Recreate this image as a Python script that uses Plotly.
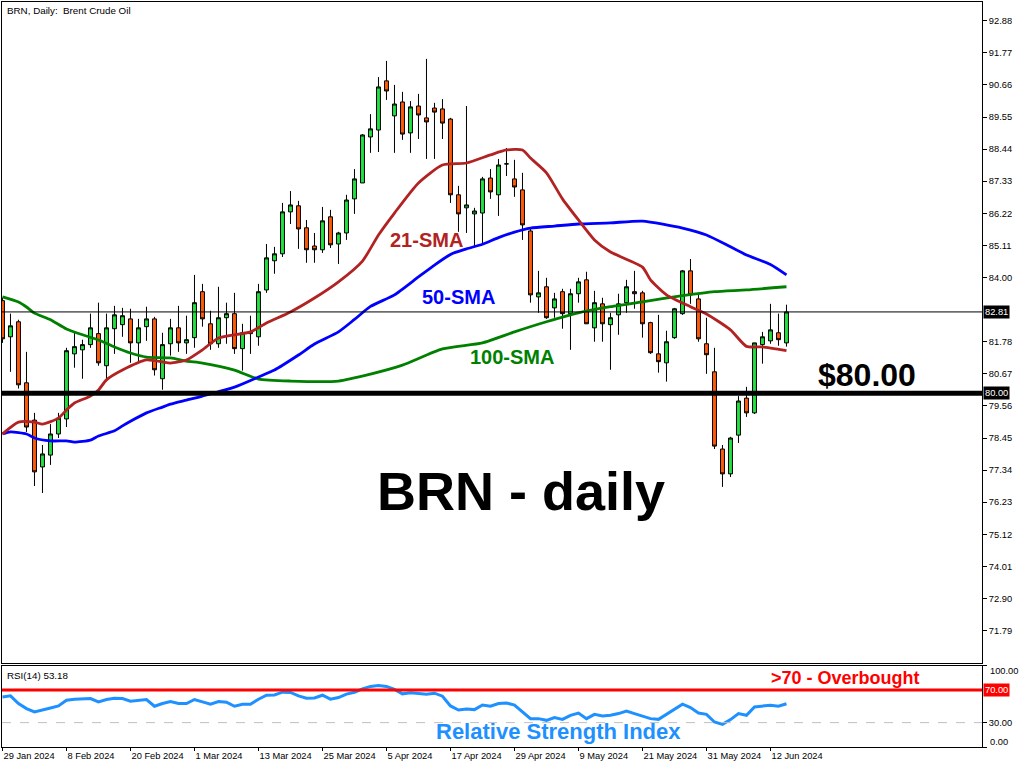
import pandas as pd
import plotly.graph_objects as go

# ---------------- data ----------------
dates = [d.strftime("%Y-%m-%d") for d in pd.bdate_range("2024-01-29", "2024-06-14")
         if d.strftime("%Y-%m-%d") != "2024-03-29"]

open_ = [83.20, 81.95, 82.47, 80.36, 79.07, 77.45, 77.86, 78.59, 79.11, 81.36,
         81.50, 81.68, 82.06, 80.95, 82.23, 82.37, 82.57, 81.74, 82.30, 82.57,
         80.50, 81.71, 82.26, 81.74, 81.92, 83.51, 82.40, 81.71, 82.61, 82.75,
         81.54, 82.06, 81.95, 83.57, 84.58, 84.82, 86.27, 86.48, 85.72, 85.09,
         84.96, 86.10, 85.16, 85.54, 86.72, 87.27, 88.86, 89.10, 90.80, 89.59,
         90.07, 89.00, 89.93, 89.52, 89.86, 89.83, 89.48, 86.86, 86.41, 86.20,
         86.23, 87.44, 86.86, 87.93, 87.41, 87.03, 85.61, 83.33, 83.68, 82.95,
         83.51, 82.75, 83.44, 83.92, 82.26, 83.09, 82.37, 82.71, 83.13, 83.51,
         83.47, 82.44, 81.36, 81.05, 81.92, 82.75, 84.23, 83.26, 81.71, 80.74,
         78.07, 77.21, 78.55, 79.83, 79.32, 81.68, 81.81, 82.09, 81.74]
high = [83.30, 82.75, 82.54, 81.43, 79.32, 78.21, 78.93, 79.32, 81.57, 82.09,
        81.85, 82.75, 83.13, 82.75, 83.02, 82.95, 82.92, 82.57, 82.99, 82.64,
        82.09, 82.57, 83.02, 82.68, 84.09, 83.78, 82.85, 83.68, 83.13, 83.47,
        82.40, 82.68, 83.78, 85.16, 85.06, 86.58, 86.99, 86.65, 85.99, 85.54,
        86.44, 86.34, 85.58, 86.86, 87.75, 88.96, 89.65, 90.93, 91.49, 90.66,
        90.42, 90.10, 90.35, 91.56, 90.04, 90.17, 89.52, 87.17, 89.93, 86.41,
        87.48, 87.75, 88.10, 88.48, 88.07, 87.62, 85.68, 84.23, 83.99, 83.47,
        83.61, 83.61, 83.99, 84.20, 83.54, 83.30, 82.78, 83.44, 83.92, 84.23,
        83.54, 82.47, 82.71, 82.16, 82.95, 84.26, 84.64, 83.47, 82.61, 81.57,
        78.21, 78.49, 79.90, 80.22, 81.74, 82.12, 83.09, 82.75, 83.06]
low = [81.74, 80.74, 80.16, 78.66, 76.79, 76.55, 77.52, 78.45, 78.83, 80.88,
       80.50, 81.57, 80.95, 80.43, 81.36, 81.95, 81.05, 81.05, 81.81, 80.61,
       80.12, 81.30, 81.43, 81.36, 81.57, 82.30, 81.50, 81.57, 81.71, 81.36,
       80.78, 81.36, 81.64, 83.47, 84.13, 84.71, 85.85, 84.99, 84.51, 84.51,
       84.85, 85.02, 84.47, 85.30, 86.20, 87.27, 88.31, 88.34, 90.14, 88.31,
       88.76, 88.31, 88.79, 88.10, 88.10, 88.79, 86.58, 85.58, 85.54, 85.09,
       85.16, 86.72, 86.13, 87.51, 86.79, 85.30, 83.13, 82.78, 82.57, 82.61,
       82.23, 81.50, 83.13, 82.40, 81.78, 81.78, 80.81, 82.02, 82.78, 82.92,
       81.92, 81.36, 80.71, 80.40, 81.88, 82.71, 83.09, 81.78, 80.67, 78.07,
       76.76, 77.10, 78.28, 79.18, 79.28, 81.02, 81.71, 81.64, 81.61]
close = [81.88, 82.33, 80.29, 78.83, 77.28, 77.90, 78.59, 79.14, 81.47, 81.61,
         81.68, 82.26, 81.05, 82.26, 82.71, 82.68, 81.74, 82.26, 82.57, 80.81,
         81.68, 82.26, 81.74, 81.85, 83.13, 82.57, 81.71, 82.61, 82.75, 81.54,
         82.09, 82.12, 83.51, 84.68, 84.82, 86.27, 86.51, 85.68, 84.96, 84.96,
         85.96, 85.13, 85.54, 86.68, 87.41, 88.93, 89.14, 90.59, 90.45, 90.00,
         88.96, 89.90, 89.62, 89.38, 89.72, 89.34, 86.86, 86.20, 86.51, 86.30,
         87.41, 86.96, 87.89, 87.93, 87.13, 85.82, 83.40, 83.47, 82.61, 83.26,
         82.75, 83.44, 83.85, 82.40, 83.13, 82.40, 82.61, 83.09, 83.68, 83.44,
         82.40, 81.40, 81.09, 81.78, 82.92, 84.23, 83.40, 81.88, 81.33, 78.17,
         77.21, 78.45, 79.73, 79.32, 81.74, 81.95, 82.19, 81.85, 82.81]

# moving averages (bar index, value)
sma21_idx = [0, 2, 4, 5, 7, 8, 9, 11, 12, 13, 15, 18, 20, 21, 23, 25, 27, 31, 33, 36,
             39, 42, 45, 47, 49, 52, 55, 58, 61, 63, 65, 66, 68, 70, 72, 74, 76, 80,
             81, 83, 86, 88, 91, 93, 95, 98]
sma21_val = [78.59, 79.00, 79.00, 78.93, 79.14, 79.42, 79.66, 79.90, 80.11, 80.46,
             80.80, 81.15, 81.08, 81.04, 81.15, 81.50, 81.91, 82.12, 82.43, 82.81,
             83.29, 83.85, 84.57, 85.47, 86.23, 87.27, 87.89, 87.96, 88.24, 88.41,
             88.41, 88.13, 87.62, 86.72, 85.99, 85.30, 84.88, 84.36, 83.92, 83.40,
             82.99, 82.74, 82.19, 81.62, 81.60, 81.47]
sma50_idx = [0, 1, 3, 4, 6, 8, 9, 11, 12, 14, 15, 16, 18, 20, 21, 23, 25, 29, 32, 34,
             37, 39, 42, 44, 46, 49, 52, 54, 56, 58, 60, 62, 64, 66, 69, 72, 76, 80,
             85, 88, 91, 93, 96, 98]
sma50_val = [78.59, 78.66, 78.59, 78.45, 78.35, 78.35, 78.31, 78.38, 78.52, 78.70,
             78.87, 79.03, 79.32, 79.52, 79.62, 79.76, 79.90, 80.21, 80.56, 80.80,
             81.32, 81.70, 82.12, 82.55, 83.00, 83.40, 84.02, 84.43, 84.80, 84.99,
             85.15, 85.38, 85.57, 85.71, 85.78, 85.85, 85.89, 85.95, 85.71, 85.47,
             85.06, 84.78, 84.45, 84.09]
sma100_idx = [0, 2, 3, 4, 6, 8, 10, 12, 14, 16, 18, 21, 23, 25, 29, 32, 36, 42, 46,
              50, 55, 60, 64, 68, 72, 76, 80, 85, 89, 93, 98]
sma100_val = [83.33, 83.15, 82.98, 82.77, 82.54, 82.22, 82.02, 81.84, 81.60, 81.39,
              81.25, 81.22, 81.11, 81.04, 80.80, 80.49, 80.42, 80.42, 80.66, 80.97,
              81.53, 81.74, 82.12, 82.47, 82.78, 82.99, 83.16, 83.37, 83.51, 83.57,
              83.68]

rsi = [61.6, 62.9, 53.5, 47.3, 43.1, 46.0, 48.0, 50.5, 57.5, 58.8,
       58.8, 59.6, 55.5, 58.4, 60.0, 59.6, 56.3, 57.5, 58.4, 50.1,
       53.5, 55.9, 53.5, 53.5, 58.4, 55.5, 52.6, 55.9, 55.1, 50.1,
       52.6, 52.6, 58.8, 63.7, 64.1, 67.4, 67.1, 62.9, 60.0, 60.4,
       63.7, 58.8, 60.8, 65.0, 67.4, 71.5, 74.5, 75.7, 74.5, 70.8,
       65.4, 66.6, 65.8, 65.0, 66.2, 62.5, 50.5, 45.5, 46.8, 46.0,
       51.7, 50.1, 53.5, 54.2, 51.5, 43.1, 34.9, 34.9, 32.8, 36.1,
       34.0, 39.0, 41.8, 34.9, 40.2, 38.1, 39.0, 41.1, 44.3, 41.1,
       38.1, 34.9, 34.0, 39.9, 46.4, 52.6, 48.5, 41.8, 40.2, 30.7,
       27.8, 33.7, 41.1, 39.0, 49.3, 50.5, 51.4, 50.1, 53.18]

tick_dates = ["2024-01-29", "2024-02-08", "2024-02-20", "2024-03-01", "2024-03-13",
              "2024-03-25", "2024-04-05", "2024-04-17", "2024-04-29", "2024-05-09",
              "2024-05-21", "2024-05-31", "2024-06-12"]
tick_labels = ["29 Jan 2024", "8 Feb 2024", "20 Feb 2024", "1 Mar 2024", "13 Mar 2024",
               "25 Mar 2024", "5 Apr 2024", "17 Apr 2024", "29 Apr 2024", "9 May 2024",
               "21 May 2024", "31 May 2024", "12 Jun 2024"]
price_ticks = [71.79, 72.90, 74.01, 75.12, 76.23, 77.34, 78.45, 79.56, 80.67, 81.78,
               84.00, 85.11, 86.22, 87.33, 88.44, 89.55, 90.66, 91.77, 92.88]
rsi_ticks = [0, 30, 100]
last_price = 82.81
key_level = 80.00
rsi_overbought = 70
rsi_mid = 30
rsi_last = 53.18

# ---------------- styling ----------------
GREEN = "#22E040"
ORANGE = "#FF5A0A"
FONT = "Liberation Sans"
W, H = 1024, 768
L, R, T, B = 2, 42, 2, 21


def px_x(px):
    return (px - L) / (W - L - R)


def px_y(py):
    return (H - B - py) / (H - T - B)


fig = go.Figure()
fig.add_trace(go.Candlestick(
    x=dates, open=open_, high=high, low=low, close=close,
    increasing=dict(line=dict(color="black", width=1), fillcolor=GREEN),
    decreasing=dict(line=dict(color="black", width=1), fillcolor=ORANGE),
    showlegend=False, xaxis="x", yaxis="y"))

for idx, val, col in [(sma100_idx, sma100_val, "#008000"),
                      (sma50_idx, sma50_val, "#0000FF"),
                      (sma21_idx, sma21_val, "#B22222")]:
    fig.add_trace(go.Scatter(x=[dates[i] for i in idx], y=val, mode="lines",
                             line=dict(color=col, width=2.8, shape="spline", smoothing=0.6),
                             showlegend=False, xaxis="x", yaxis="y"))

fig.add_trace(go.Scatter(x=dates, y=rsi, mode="lines",
                         line=dict(color="#1E90FF", width=3),
                         showlegend=False, xaxis="x2", yaxis="y2"))

main_dom = [px_y(663), 1]
rsi_dom = [0, px_y(665.7)]
ppx = 28.92
y_top = key_level + (393.2 - T) / ppx
y_bot = key_level - (663 - 393.2) / ppx
x_range = [-0.06, -0.06 + (W - L - R) / 8]

axis_common = dict(showline=True, mirror=True, linecolor="black", linewidth=1,
                   showgrid=False, zeroline=False)

fig.update_layout(
    width=W, height=H,
    margin=dict(l=L, r=R, t=T, b=B),
    paper_bgcolor="white", plot_bgcolor="white",
    font=dict(family=FONT, color="black", size=9.3),
    showlegend=False,
    xaxis=dict(domain=[0, 1], anchor="y", type="category", range=x_range,
               showticklabels=False, ticks="", rangeslider=dict(visible=False),
               **axis_common),
    xaxis2=dict(domain=[0, 1], anchor="y2", type="category", matches="x",
                tickvals=tick_dates, ticktext=tick_labels, ticks="outside", ticklen=3,
                tickcolor="black", ticklabelposition="outside right",
                tickfont=dict(size=9.3, family=FONT), **axis_common),
    yaxis=dict(domain=main_dom, anchor="x", side="right", range=[y_bot, y_top],
               tickvals=price_ticks, ticktext=[f"{v:.2f}" for v in price_ticks],
               ticks="outside", ticklen=4, tickcolor="black",
               tickfont=dict(size=9.3, family=FONT), automargin=False, **axis_common),
    yaxis2=dict(domain=rsi_dom, anchor="x2", side="right", range=[0, 100],
                tickvals=rsi_ticks, ticktext=["", "30.00", ""],
                ticks="outside", ticklen=4, tickcolor="black",
                tickfont=dict(size=9.3, family=FONT), automargin=False, **axis_common),
)

fig.update_layout(shapes=[
    dict(type="line", xref="paper", x0=0, x1=1, yref="y", y0=last_price, y1=last_price,
         line=dict(color="black", width=1)),
    dict(type="line", xref="paper", x0=0, x1=1, yref="y", y0=key_level, y1=key_level,
         line=dict(color="black", width=5)),
    dict(type="line", xref="paper", x0=0, x1=1, yref="y2", y0=rsi_overbought,
         y1=rsi_overbought, line=dict(color="#FF0000", width=3)),
    dict(type="line", xref="paper", x0=0, x1=1, yref="y2", y0=rsi_mid, y1=rsi_mid,
         line=dict(color="#C0C0C0", width=1, dash="dash")),
])

ann = []
# price boxes on the axis
for val, yref, bg in [(last_price, "y", "black"), (key_level, "y", "black"),
                      (rsi_overbought, "y2", "#FF0000")]:
    ann.append(dict(xref="paper", x=1, xanchor="left", xshift=1, yref=yref, y=val,
                    text=f"{val:.2f}", showarrow=False, bgcolor=bg, borderpad=1,
                    font=dict(color="white", size=9.3, family=FONT)))
# RSI scale end labels (drawn slightly inside the panel, as in the reference)
for val, shift in [(100, -5), (0, 5)]:
    ann.append(dict(xref="paper", x=1, xanchor="left", xshift=6, yref="y2", y=val,
                    yshift=shift, text=f"{val:.2f}", showarrow=False,
                    font=dict(size=9.3, family=FONT)))
ann.append(dict(xref="paper", x=0, xanchor="left", xshift=3, yref="paper", y=1,
                yanchor="top", yshift=-1, text="BRN, Daily:  Brent Crude Oil",
                showarrow=False, font=dict(size=9.8, family=FONT)))
ann.append(dict(xref="paper", x=0, xanchor="left", xshift=3, yref="y2", y=100,
                yanchor="top", yshift=-2, text=f"RSI(14) {rsi_last:.2f}",
                showarrow=False, font=dict(size=9.8, family=FONT)))

labels = [
    ("21-SMA", 426, 240, 20, "#B22222"),
    ("50-SMA", 458, 297, 20, "#0000FF"),
    ("100-SMA", 512, 357, 20, "#008000"),
    ("$80.00", 867, 375, 32, "black"),
    ("BRN - daily", 521, 491, 54, "black"),
    (">70 - Overbought", 845, 678, 18, "#FF0000"),
    ("Relative Strength Index", 558, 731, 22, "#1E90FF"),
]
for txt, x, y, sz, col in labels:
    ann.append(dict(xref="paper", yref="paper", x=px_x(x), y=px_y(y), xanchor="center",
                    yanchor="middle", text=f"<b>{txt}</b>", showarrow=False,
                    font=dict(size=sz, color=col, family=FONT)))
fig.update_layout(annotations=ann)

fig.write_html("out.html", config={"displayModeBar": False},
               post_script="document.body.style.margin='0';document.body.style.padding='0';")
